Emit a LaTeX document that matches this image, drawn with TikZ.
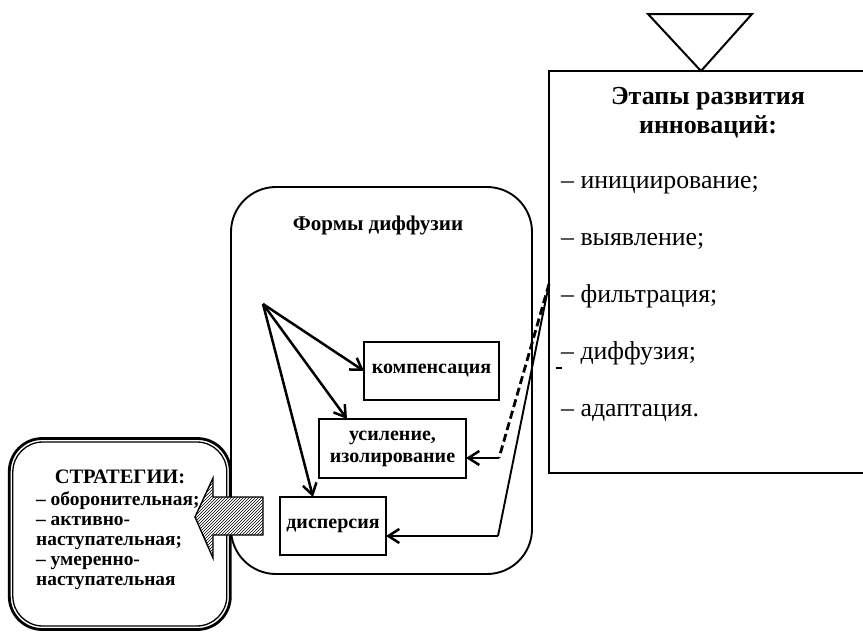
\documentclass[tikz,border=0pt]{standalone}
\usepackage{fontspec}
\setmainfont{Liberation Serif}
\usetikzlibrary{arrows.meta,patterns}
\begin{document}
\begin{tikzpicture}[x=1pt,y=-1pt,
  bx/.style={draw, line width=1.9pt, inner sep=0pt, outer sep=0pt, align=center,
    font=\bfseries\fontsize{20}{22}\selectfont},
  arr/.style={line width=2.5pt, -{Straight Barb[length=11pt,width=14pt]}},
  item/.style={anchor=base west, inner sep=0pt, font=\fontsize{25.8}{28}\selectfont},
  strat/.style={anchor=base west, inner sep=0pt, font=\bfseries\fontsize{19.4}{20}\selectfont},
  ttl/.style={anchor=base, inner sep=0pt, font=\bfseries\fontsize{26}{28}\selectfont}]
\useasboundingbox (0,0) rectangle (863,633);

% stages box and triangle
\node[draw, line width=1.9pt, inner sep=0pt, outer sep=0pt, minimum width=317pt, minimum height=402pt] (stages) at (707.5,272) {};
\draw[line width=2pt] (648,14) -- (752,14) -- (701,71) -- cycle;
\node[ttl] (t1) at (708,104) {Этапы развития};
\node[ttl] (t2) at (708,133) {инноваций:};
\node[item] (i1) at (561,188) {– инициирование;};
\node[item] (i2) at (561,245) {– выявление;};
\node[item] (i3) at (561,302) {– фильтрация;};
\node[item] (i4) at (561,359) {– диффузия;};
\node[item] (i5) at (561,416) {– адаптация.};
\draw[line width=1.8pt] (555.5,368) -- (562,368);

% forms box
\node[draw, line width=1.9pt, rounded corners=45pt, inner sep=0pt, outer sep=0pt, minimum width=301pt, minimum height=387pt] (forms) at (381.5,380.5) {};
\node[anchor=base, inner sep=0pt, font=\bfseries\fontsize{21}{23}\selectfont] (ft) at (378,230) {Формы диффузии};

\node[bx, minimum width=135pt, minimum height=58pt] (komp) at (431.5,371) {компенсация};
\node[bx, minimum width=147pt, minimum height=59pt] (usil) at (392.5,448.5) {усиление,\\изолирование};
\node[bx, minimum width=106pt, minimum height=58pt] (disp) at (333,526) {дисперсия};

\coordinate (o) at (263,304);
\draw[arr] (o) -- (komp.west);
\draw[arr] (o) -- ([xshift=-45.5pt]usil.north);
\draw[arr] (o) -- ([xshift=-20pt]disp.north);

\coordinate (src) at (549,284);
\coordinate (b1) at (499,458);
\coordinate (b2) at (498,536);
\draw[line width=2.8pt, dash pattern=on 8pt off 4pt] (src) -- (b1);
\draw[arr] (b1) -- (b1 -| usil.east);
\draw[line width=1.9pt] (src) -- (b2);
\draw[arr] (b2) -- (b2 -| disp.east);

% strategies box
\node[draw, line width=2.8pt, rounded corners=33pt, inner sep=0pt, outer sep=0pt, minimum width=221pt, minimum height=191pt] (sb) at (119.8,534) {};
\draw[line width=1.3pt, rounded corners=30pt] ([shift={(3.5pt,-3.5pt)}]sb.north west) rectangle ([shift={(-3.5pt,3.5pt)}]sb.south east);
\node[anchor=base, inner sep=0pt, font=\bfseries\fontsize{20.5}{20}\selectfont] (s0) at (120,483) {СТРАТЕГИИ:};
\node[strat] (s1) at (36,505) {– оборонительная;};
\node[strat] (s2) at (36,525) {– активно-};
\node[strat] (s3) at (36,545) {наступательная;};
\node[strat] (s4) at (36,565) {– умеренно-};
\node[strat] (s5) at (36,585) {наступательная};

% hatched arrow
\draw[line width=1.4pt, preaction={fill=white}, pattern=north east lines]
  (195,517) -- (213,478) -- (213,497) -- (263,497) -- (263,535) -- (213,535) -- (213,558) -- cycle;
\end{tikzpicture}
\end{document}
